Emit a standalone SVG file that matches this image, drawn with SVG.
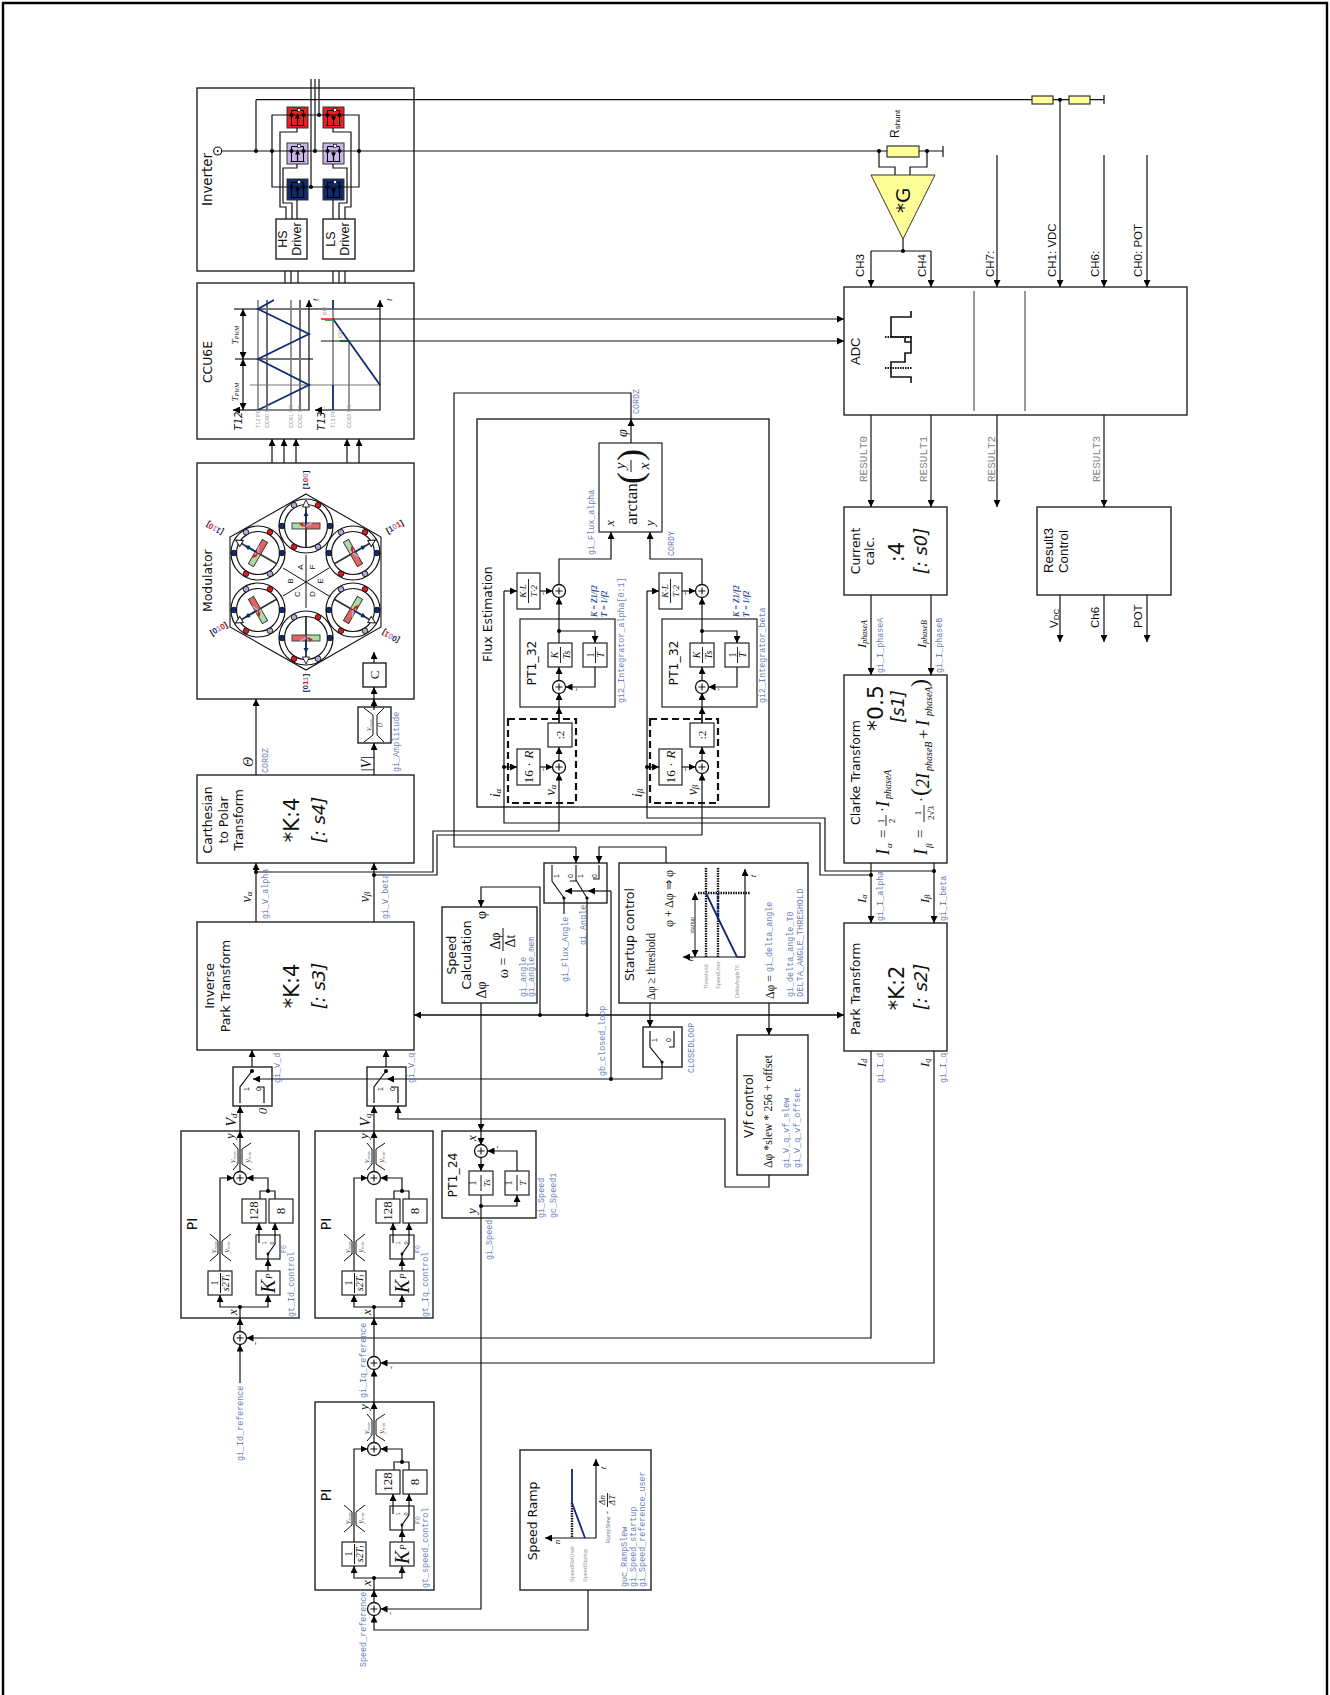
<svg xmlns="http://www.w3.org/2000/svg" xmlns:xlink="http://www.w3.org/1999/xlink" width="1330" height="1695" viewBox="0 0 1330 1695">
<style>
.w{fill:none;stroke:#111;stroke-width:1.2}
.a{marker-end:url(#a)}
.aa{marker-end:url(#a);marker-start:url(#a)}
.g{fill:none;stroke:#777;stroke-width:1.5}
.n{fill:none;stroke:#0c2a75;stroke-width:1.8}
.b{fill:#fff;stroke:#222;stroke-width:1.4}
.thin{fill:#fff;stroke:#222;stroke-width:1.2}
.d{fill:#000;r:2px}
.dash{fill:none;stroke:#111;stroke-width:2.2;stroke-dasharray:7 4}
.dot{fill:none;stroke:#111;stroke-width:2.4;stroke-dasharray:1.5 1}
text{fill:#111}
.t{font:12.4px "DejaVu Sans",sans-serif}
.big{font:21px "DejaVu Sans",sans-serif}
.it{font:italic 18px "DejaVu Sans",sans-serif}
.h{font:11.5px "Liberation Sans",sans-serif}
.h12{font:12.5px "Liberation Sans",sans-serif}
.s{font:13px "Liberation Serif",serif}
.si{font:italic 13px "Liberation Serif",serif}
.si9{font:italic 9px "Liberation Serif",serif}
.sub{font:italic 9px "Liberation Serif",serif}
.m{font:8.4px "Liberation Mono",monospace;fill:#6c7fb8}
.r{font:11px "Liberation Mono",monospace;fill:#888}
.tiny{font:5.5px "Liberation Sans",sans-serif;fill:#999}
.lim{font:italic 8px "Liberation Serif",serif;fill:#555}
.kt{font:bold italic 8px "Liberation Serif",serif;fill:#2c4a9a}
.mid{text-anchor:middle}
</style>
<defs>
<marker id="a" viewBox="0 0 8 8" refX="8" refY="4" markerWidth="7" markerHeight="7" markerUnits="userSpaceOnUse" orient="auto-start-reverse"><path d="M0,0L8,4L0,8Z" fill="#000"/></marker>
<g id="sum"><circle r="6.5" fill="#fff" stroke="#111" stroke-width="1.3"/><path d="M-3.5,0H3.5M0,-3.5V3.5" stroke="#111" stroke-width="1.1"/></g>
<g id="fetU"><path d="M-6,-3V-7H6V-3M-6,-3V8H6V-3M-7,8H7" fill="none" stroke="#000" stroke-width="1"/><path d="M0,8V-2" stroke="#000" stroke-width="1.2"/><path d="M-2.5,1L0,-4L2.5,1Z" fill="#000"/><rect x="0" y="-9" width="3" height="3" fill="#fff" stroke="#000" stroke-width=".6"/><circle cx="-6" cy="-2.5" r="2" fill="#000"/><circle cx="6" cy="-2.5" r="2" fill="#000"/></g>
<g id="fetD"><path d="M-6,-3V-7H6V-3M-6,-3V8H6V-3M-7,8H7" fill="none" stroke="#000" stroke-width="1"/><path d="M0,8V-2" stroke="#000" stroke-width="1.2"/><path d="M-2.5,-1L0,4L2.5,-1Z" fill="#000"/><rect x="0" y="-9" width="3" height="3" fill="#fff" stroke="#000" stroke-width=".6"/><circle cx="-6" cy="-2.5" r="2" fill="#000"/><circle cx="6" cy="-2.5" r="2" fill="#000"/></g>
<g id="ring"><circle r="27" fill="#fff" stroke="#111" stroke-width="1.2"/><circle r="21.5" fill="#fff" stroke="#111" stroke-width="1.2"/>
<circle cx="-12" cy="-20.8" r="2.8" fill="#b9a6df" stroke="#111" stroke-width=".9"/><circle cx="12" cy="-20.8" r="2.8" fill="#e01818" stroke="#111" stroke-width=".9"/><circle cx="-24" cy="0" r="2.8" fill="#0f2a6e" stroke="#111" stroke-width=".9"/><circle cx="24" cy="0" r="2.8" fill="#0f2a6e" stroke="#111" stroke-width=".9"/><circle cx="-12" cy="20.8" r="2.8" fill="#e01818" stroke="#111" stroke-width=".9"/><circle cx="12" cy="20.8" r="2.8" fill="#b9a6df" stroke="#111" stroke-width=".9"/></g>
<g id="rotor"><path d="M0,-21V21" stroke="#333" stroke-width="1.8"/><path d="M0,-26L-3.5,-19L3.5,-19Z" fill="#fff" stroke="#111" stroke-width=".9"/><rect x="-14" y="-3" width="14" height="6" fill="#a8dca8" stroke="#333" stroke-width=".9"/><rect x="0" y="-3" width="14" height="6" fill="#e06666" stroke="#333" stroke-width=".9"/><path d="M0,0V-11" stroke="#0f2a6e" stroke-width="1.4"/><path d="M-2.5,-10L0,-15L2.5,-10Z" fill="#0f2a6e"/><path d="M0,0L6,-3" stroke="#b9a6df" stroke-width="1.6"/><path d="M0,0L-4,-1" stroke="#e01818" stroke-width="1.6"/><path d="M-3,-3.5L-7,-2L-3,1Z" fill="#e01818"/></g>
</defs>

<path id="frame" d="M3,1695V3H1327V1695" fill="none" stroke="#000" stroke-width="2.4"/>

<g id="inverter">
<rect class="b" x="197" y="88" width="217" height="183"/>
<text class="t" style="font-size:13.4px" transform="translate(212,206) rotate(-90)">Inverter</text>
<circle cx="217.7" cy="151" r="4" fill="#fff" stroke="#111" stroke-width="1.1"/><circle cx="217.7" cy="151" r=".9" fill="#000"/>
<rect x="287" y="107" width="21" height="21" fill="#ee1c1c" stroke="#333"/><rect x="323" y="107" width="21" height="21" fill="#ee1c1c" stroke="#333"/>
<rect x="287" y="143" width="21" height="21" fill="#c8b6e8" stroke="#333"/><rect x="323" y="143" width="21" height="21" fill="#c8b6e8" stroke="#333"/>
<rect x="287" y="179" width="21" height="21" fill="#0f2a6e" stroke="#333"/><rect x="323" y="179" width="21" height="21" fill="#0f2a6e" stroke="#333"/>
<use href="#fetU" x="297.5" y="117.5"/><use href="#fetD" x="333.5" y="117.5"/><use href="#fetU" x="297.5" y="153.5"/><use href="#fetD" x="333.5" y="153.5"/><use href="#fetU" x="297.5" y="189.5"/><use href="#fetD" x="333.5" y="189.5"/>
<path class="w" d="M222,151H414M272,115H359V187H272ZM256,99.7V151M311,79V187M315,79V151M319,79V115"/>
<path class="w" d="M297,128V132H280V207H286V219M297,164V168H283V203H292V219M297,200V219M333,128V132H351V207H345V219M333,164V168H347V203H339V219M333,200V219"/>
<circle class="d" cx="256" cy="151"/><circle class="d" cx="272" cy="151"/><circle class="d" cx="315" cy="151"/><circle class="d" cx="359" cy="151"/><circle class="d" cx="319" cy="115"/><circle class="d" cx="311" cy="187"/>
<rect class="b" x="276" y="219" width="31" height="40"/><rect class="b" x="323" y="219" width="32" height="40"/>
<text class="h12 mid" transform="translate(287,239) rotate(-90)">HS</text><text class="h12 mid" transform="translate(301,239) rotate(-90)">Driver</text>
<text class="h12 mid" transform="translate(335,239) rotate(-90)">LS</text><text class="h12 mid" transform="translate(349,239) rotate(-90)">Driver</text>
</g>

<g id="ccu6e">
<rect class="b" x="197" y="283" width="217" height="156"/>
<text class="t mid" transform="translate(212,362) rotate(-90)">CCU6E</text>
<path class="g" d="M258,300V410M291,300V410"/><path class="w" d="M267,300V410M300,300V410"/>
<path class="g" d="M234,309H380M235,359H313" style="stroke-width:2"/><path class="g" d="M250,385H380" style="stroke-width:1.2"/>
<path class="w a" d="M258,410H309V300"/><path class="w a" d="M258,410H233"/>
<path class="n" d="M258,410L309,385L258,359L309,334L258,309L274,300"/>
<path class="w aa" d="M243,410V359"/><path class="w aa" d="M243,359V309"/>
<text class="si9 mid" transform="translate(238,392) rotate(-90)">T<tspan font-size="6" dy="1">PWM</tspan></text><text class="si9 mid" transform="translate(238,335) rotate(-90)">T<tspan font-size="6" dy="1">PWM</tspan></text>
<text class="t mid" transform="translate(242,421) rotate(-90)" style="font-style:italic;font-size:10px">T12</text><text class="t mid" transform="translate(325,421) rotate(-90)" style="font-style:italic;font-size:10px">T13</text>
<text class="si9" transform="translate(318,301) rotate(-90)">t</text><text class="si9" transform="translate(392,301) rotate(-90)">t</text>
<path class="g" d="M333,309V385M349,341V410"/><path class="n" d="M333,300V309M333,385V410"/>
<path class="w a" d="M333,410H380V300"/><path class="w a" d="M333,410H315"/>
<path class="n" d="M333,319L380,385"/>
<path d="M321,319H333" stroke="#e01818" stroke-width="1.5"/><path d="M325,320H334" stroke="#19a838" stroke-width="1.8"/><path d="M340,341H350" stroke="#19a838" stroke-width="1.8"/>
<text class="tiny" transform="translate(260,428) rotate(-90)">T12 PR</text><text class="tiny" transform="translate(269,428) rotate(-90)">CC60 SR</text><text class="tiny" transform="translate(293,428) rotate(-90)">CC61 SR</text><text class="tiny" transform="translate(302,428) rotate(-90)">CC62 SR</text><text class="tiny" transform="translate(335,428) rotate(-90)">T13 PR</text><text class="tiny" transform="translate(351,428) rotate(-90)">CC63 SR</text>
<text class="tiny" transform="translate(327,315) rotate(-90)">PM</text><text class="tiny" transform="translate(342,338) rotate(-90)">CM</text>
</g>

<g id="modulator">
<rect class="b" x="197" y="463" width="217" height="236"/>
<text class="t" transform="translate(212,612) rotate(-90)">Modulator</text>
<path d="M306,494L381,537V627L306,670L230,627V537Z" fill="none" stroke="#111" stroke-width="1.1"/>
<path class="w" d="M306,555V608M283,568L329,596M283,596L329,568" style="stroke-width:1"/>
<g><use href="#ring" x="306" y="526"/><use href="#ring" x="258" y="553"/><use href="#ring" x="258" y="610"/><use href="#ring" x="306" y="638"/><use href="#ring" x="353" y="610"/><use href="#ring" x="353" y="553"/>
<use href="#rotor" transform="translate(306,526)"/><use href="#rotor" transform="translate(258,553) rotate(-60)"/><use href="#rotor" transform="translate(258,610) rotate(-120)"/><use href="#rotor" transform="translate(306,638) rotate(180)"/><use href="#rotor" transform="translate(353,610) rotate(120)"/><use href="#rotor" transform="translate(353,553) rotate(60)"/></g>
<g style="font:8px 'Liberation Sans',sans-serif;text-anchor:middle;fill:#333"><text transform="translate(303,567) rotate(-90)">A</text><text transform="translate(293,581) rotate(-90)">B</text><text transform="translate(300,594) rotate(-90)">C</text><text transform="translate(315,594) rotate(-90)">D</text><text transform="translate(323,581) rotate(-90)">E</text><text transform="translate(315,567) rotate(-90)">F</text></g>
<g style="font:bold 8px 'Liberation Sans',sans-serif;text-anchor:middle">
<text transform="translate(308,480) rotate(-90)">[<tspan fill="#1a2f80">1</tspan><tspan fill="#e01818">0</tspan><tspan fill="#a892d8">0</tspan>]</text>
<text transform="translate(308,683) rotate(-90)">[<tspan fill="#1a2f80">0</tspan><tspan fill="#e01818">1</tspan><tspan fill="#a892d8">1</tspan>]</text>
<text transform="translate(396,529) rotate(-30)">[<tspan fill="#1a2f80">1</tspan><tspan fill="#a892d8">0</tspan><tspan fill="#e01818">1</tspan>]</text>
<text transform="translate(220,631) rotate(-30)">[<tspan fill="#1a2f80">0</tspan><tspan fill="#a892d8">1</tspan><tspan fill="#e01818">0</tspan>]</text>
<text transform="translate(216,526) rotate(-150)">[<tspan fill="#1a2f80">1</tspan><tspan fill="#a892d8">1</tspan><tspan fill="#e01818">0</tspan>]</text>
<text transform="translate(392,634) rotate(-150)">[<tspan fill="#1a2f80">0</tspan><tspan fill="#a892d8">0</tspan><tspan fill="#e01818">1</tspan>]</text>
</g>
<rect class="b" x="363" y="663" width="23" height="24"/>
<text class="s mid" transform="translate(379,675) rotate(-90)">C</text>
</g>

<g id="amplitude-limiter">
<rect class="b" x="358" y="707" width="33" height="36"/>
<path class="w" d="M364,708L373,715V735L364,742M384,708L377,715V735L384,742" style="stroke-width:1"/>
<text class="lim mid" transform="translate(371,725) rotate(-90)">y<tspan font-size="5" dy="1">max</tspan></text><text class="lim mid" transform="translate(383,725) rotate(-90)">0</text>
</g>

<g id="carthesian">
<rect class="b" x="197" y="775" width="217" height="88"/>
<text class="t mid" transform="translate(212,820) rotate(-90)">Carthesian</text><text class="t mid" transform="translate(228,820) rotate(-90)">to Polar</text><text class="t mid" transform="translate(243,820) rotate(-90)">Transform</text>
<text class="big mid" transform="translate(299,820) rotate(-90)">*K:4</text><text class="it mid" transform="translate(325,820) rotate(-90)">[: s4]</text>
</g>

<g id="inverse-park">
<rect class="b" x="197" y="922" width="217" height="128"/>
<text class="t mid" transform="translate(214,986) rotate(-90)">Inverse</text><text class="t mid" transform="translate(230,986) rotate(-90)">Park Transform</text>
<text class="big mid" transform="translate(299,986) rotate(-90)">*K:4</text><text class="it mid" transform="translate(325,986) rotate(-90)">[: s3]</text>
</g>

<g id="sw-vd">
<rect class="b" x="233" y="1067" width="39" height="39"/>
<path class="w" d="M240,1103V1087L252,1071M264,1103V1087H257"/><circle class="d" cx="252" cy="1071"/>
<text class="tiny mid" style="fill:#111;font-size:7px" transform="translate(249,1089) rotate(-90)">1</text><text class="tiny mid" style="fill:#111;font-size:7px" transform="translate(261,1089) rotate(-90)">0</text>
<text class="si mid" transform="translate(267,1111) rotate(-90)">0</text>
</g>
<g id="sw-vq">
<rect class="b" x="367" y="1067" width="39" height="39"/>
<path class="w" d="M374,1103V1087L386,1071M398,1103V1087H391"/><circle class="d" cx="386" cy="1071"/>
<text class="tiny mid" style="fill:#111;font-size:7px" transform="translate(383,1089) rotate(-90)">1</text><text class="tiny mid" style="fill:#111;font-size:7px" transform="translate(395,1089) rotate(-90)">0</text>
</g>

<g id="pi-id" transform="translate(181,1131)">
<rect class="b" width="118" height="187"/>
<text class="t mid" style="font-size:14px" transform="translate(16,93) rotate(-90)">PI</text>
<rect class="thin" x="27" y="140" width="24" height="24"/><rect class="thin" x="75" y="140" width="24" height="24"/><rect class="thin" x="61" y="68" width="24" height="24"/><rect class="thin" x="88" y="68" width="24" height="24"/><rect class="thin" x="75" y="104" width="24" height="24"/>
<path class="w a" d="M59,176H39V164"/><path class="w a" d="M59,176H87V164"/><path class="w" d="M59,187V176"/><circle class="d" cx="59" cy="176"/>
<path class="w a" d="M39,140V47H52.5"/><path class="w a" d="M87,60V47H65.5"/><path class="w" d="M79,68V60H94V68"/><circle class="d" cx="87" cy="60"/>
<path class="w a" d="M78,112V92"/><path class="w a" d="M94,113V92"/><path class="w" d="M94,113L87,123V128"/><circle class="d" cx="87" cy="123" style="r:1.4px"/><path class="w a" d="M87,140V128"/>
<path class="w" d="M29,103L37,110V123L29,130M50,103L41,110V123L50,130M52,39L57,33V18L52,12M70,39L61,33V18L70,12" style="stroke-width:1"/>
<path class="w a" d="M59,41V0"/><use href="#sum" x="59" y="47"/>
<text class="lim mid" transform="translate(35,116) rotate(-90)">y<tspan font-size="5" dy="1">max</tspan></text><text class="lim mid" transform="translate(48,116) rotate(-90)">y<tspan font-size="5" dy="1">min</tspan></text>
<text class="lim mid" transform="translate(54,26) rotate(-90)">y<tspan font-size="5" dy="1">max</tspan></text><text class="lim mid" transform="translate(69,26) rotate(-90)">y<tspan font-size="5" dy="1">min</tspan></text>
<text class="si mid" transform="translate(53,5) rotate(-90)">y</text><text class="si mid" transform="translate(56,181) rotate(-90)">x</text>
<text class="s mid" transform="translate(37,152) rotate(-90)" style="font-size:10px">1</text><path class="w" d="M39.5,142V162" style="stroke-width:1"/><text class="si9 mid" transform="translate(48,152) rotate(-90)" style="font-size:10px">s2T<tspan font-size="6" dy="1">I</tspan></text>
<text class="si" transform="translate(94,162) rotate(-90)" style="font-size:20px">K</text><text class="si9" transform="translate(91,148) rotate(-90)">P</text>
<text class="s mid" transform="translate(77,80) rotate(-90)">128</text><text class="s mid" transform="translate(104,80) rotate(-90)">8</text>
<text class="tiny mid" style="fill:#111" transform="translate(85,112) rotate(-90)">1</text><text class="tiny mid" style="fill:#111" transform="translate(93,112) rotate(-90)">0</text>
<text class="m" transform="translate(113,186) rotate(-90)">gt_Id_control</text><text class="m" style="font-size:6.5px" transform="translate(105,122) rotate(-90)">F0</text>
</g>

<g id="pi-iq" transform="translate(315,1131)">
<rect class="b" width="118" height="187"/>
<text class="t mid" style="font-size:14px" transform="translate(16,93) rotate(-90)">PI</text>
<rect class="thin" x="27" y="140" width="24" height="24"/><rect class="thin" x="75" y="140" width="24" height="24"/><rect class="thin" x="61" y="68" width="24" height="24"/><rect class="thin" x="88" y="68" width="24" height="24"/><rect class="thin" x="75" y="104" width="24" height="24"/>
<path class="w a" d="M59,176H39V164"/><path class="w a" d="M59,176H87V164"/><path class="w" d="M59,187V176"/><circle class="d" cx="59" cy="176"/>
<path class="w a" d="M39,140V47H52.5"/><path class="w a" d="M87,60V47H65.5"/><path class="w" d="M79,68V60H94V68"/><circle class="d" cx="87" cy="60"/>
<path class="w a" d="M78,112V92"/><path class="w a" d="M94,113V92"/><path class="w" d="M94,113L87,123V128"/><circle class="d" cx="87" cy="123" style="r:1.4px"/><path class="w a" d="M87,140V128"/>
<path class="w" d="M29,103L37,110V123L29,130M50,103L41,110V123L50,130M52,39L57,33V18L52,12M70,39L61,33V18L70,12" style="stroke-width:1"/>
<path class="w a" d="M59,41V0"/><use href="#sum" x="59" y="47"/>
<text class="lim mid" transform="translate(35,116) rotate(-90)">y<tspan font-size="5" dy="1">max</tspan></text><text class="lim mid" transform="translate(48,116) rotate(-90)">y<tspan font-size="5" dy="1">min</tspan></text>
<text class="lim mid" transform="translate(54,26) rotate(-90)">y<tspan font-size="5" dy="1">max</tspan></text><text class="lim mid" transform="translate(69,26) rotate(-90)">y<tspan font-size="5" dy="1">min</tspan></text>
<text class="si mid" transform="translate(53,5) rotate(-90)">y</text><text class="si mid" transform="translate(56,181) rotate(-90)">x</text>
<text class="s mid" transform="translate(37,152) rotate(-90)" style="font-size:10px">1</text><path class="w" d="M39.5,142V162" style="stroke-width:1"/><text class="si9 mid" transform="translate(48,152) rotate(-90)" style="font-size:10px">s2T<tspan font-size="6" dy="1">I</tspan></text>
<text class="si" transform="translate(94,162) rotate(-90)" style="font-size:20px">K</text><text class="si9" transform="translate(91,148) rotate(-90)">P</text>
<text class="s mid" transform="translate(77,80) rotate(-90)">128</text><text class="s mid" transform="translate(104,80) rotate(-90)">8</text>
<text class="tiny mid" style="fill:#111" transform="translate(85,112) rotate(-90)">1</text><text class="tiny mid" style="fill:#111" transform="translate(93,112) rotate(-90)">0</text>
<text class="m" transform="translate(113,186) rotate(-90)">gt_Iq_control</text><text class="m" style="font-size:6.5px" transform="translate(105,122) rotate(-90)">F0</text>
</g>

<g id="pi-speed" transform="translate(315,1402)">
<rect class="b" width="119" height="188"/>
<text class="t mid" style="font-size:14px" transform="translate(16,93) rotate(-90)">PI</text>
<rect class="thin" x="27" y="140" width="24" height="24"/><rect class="thin" x="75" y="140" width="24" height="24"/><rect class="thin" x="61" y="68" width="24" height="24"/><rect class="thin" x="88" y="68" width="24" height="24"/><rect class="thin" x="75" y="104" width="24" height="24"/>
<path class="w a" d="M59,176H39V164"/><path class="w a" d="M59,176H87V164"/><path class="w" d="M59,188V176"/><circle class="d" cx="59" cy="176"/>
<path class="w a" d="M39,140V47H52.5"/><path class="w a" d="M87,60V47H65.5"/><path class="w" d="M79,68V60H94V68"/><circle class="d" cx="87" cy="60"/>
<path class="w a" d="M78,112V92"/><path class="w a" d="M94,113V92"/><path class="w" d="M94,113L87,123V128"/><circle class="d" cx="87" cy="123" style="r:1.4px"/><path class="w a" d="M87,140V128"/>
<path class="w" d="M29,103L37,110V123L29,130M50,103L41,110V123L50,130M52,39L57,33V18L52,12M70,39L61,33V18L70,12" style="stroke-width:1"/>
<path class="w a" d="M59,41V0"/><use href="#sum" x="59" y="47"/>
<text class="lim mid" transform="translate(35,116) rotate(-90)">y<tspan font-size="5" dy="1">max</tspan></text><text class="lim mid" transform="translate(48,116) rotate(-90)">y<tspan font-size="5" dy="1">min</tspan></text>
<text class="lim mid" transform="translate(54,26) rotate(-90)">y<tspan font-size="5" dy="1">max</tspan></text><text class="lim mid" transform="translate(69,26) rotate(-90)">y<tspan font-size="5" dy="1">min</tspan></text>
<text class="si mid" transform="translate(53,5) rotate(-90)">y</text><text class="si mid" transform="translate(56,181) rotate(-90)">x</text>
<text class="s mid" transform="translate(37,152) rotate(-90)" style="font-size:10px">1</text><path class="w" d="M39.5,142V162" style="stroke-width:1"/><text class="si9 mid" transform="translate(48,152) rotate(-90)" style="font-size:10px">s2T<tspan font-size="6" dy="1">I</tspan></text>
<text class="si" transform="translate(94,162) rotate(-90)" style="font-size:20px">K</text><text class="si9" transform="translate(91,148) rotate(-90)">P</text>
<text class="s mid" transform="translate(77,80) rotate(-90)">128</text><text class="s mid" transform="translate(104,80) rotate(-90)">8</text>
<text class="tiny mid" style="fill:#111" transform="translate(85,112) rotate(-90)">1</text><text class="tiny mid" style="fill:#111" transform="translate(93,112) rotate(-90)">0</text>
<text class="m" transform="translate(113,186) rotate(-90)">gt_speed_control</text><text class="m" style="font-size:6.5px" transform="translate(105,122) rotate(-90)">F0</text>
</g>

<g id="pt1-24">
<rect class="b" x="442" y="1131" width="94" height="87"/>
<text class="t mid" transform="translate(457,1175) rotate(-90)">PT1_24</text>
<rect class="thin" x="469" y="1171" width="24" height="24"/><rect class="thin" x="505" y="1171" width="24" height="24"/>
<path class="w a" d="M481,1157V1171"/><path class="w a" d="M481,1206H517V1195"/><path class="w" d="M481,1195V1218"/><path class="w a" d="M517,1171V1151H487.5"/>
<use href="#sum" x="481" y="1151"/><circle class="d" cx="481" cy="1206"/>
<text class="si mid" transform="translate(476,1138) rotate(-90)">x</text><text class="si mid" transform="translate(476,1211) rotate(-90)">y</text>
<text class="s mid" transform="translate(476,1183) rotate(-90)" style="font-size:10px">1</text><path class="w" d="M481,1175V1191" style="stroke-width:1"/><text class="si9 mid" transform="translate(490,1183) rotate(-90)">Ts</text>
<text class="s mid" transform="translate(512,1183) rotate(-90)" style="font-size:10px">1</text><path class="w" d="M517,1175V1191" style="stroke-width:1"/><text class="si9 mid" transform="translate(526,1183) rotate(-90)">T</text>
<text class="s mid" transform="translate(500,1147) rotate(-90)" style="font-size:9px">-</text>
<text class="m" transform="translate(544,1218) rotate(-90)">gi_Speed</text><text class="m" transform="translate(556,1218) rotate(-90)">gc_Speed1</text>
</g>

<g id="speed-ramp">
<rect class="b" x="520" y="1450" width="131" height="140"/>
<text class="t mid" transform="translate(537,1521) rotate(-90)">Speed Ramp</text>
<path class="w a" d="M596,1538V1459"/><path class="w a" d="M596,1538H545"/>
<path class="dot" d="M572,1503V1538"/><path class="n" d="M572,1469V1503L585,1538"/>
<text class="si9 mid" transform="translate(560,1542) rotate(-90)">n</text><text class="si9 mid" transform="translate(606,1468) rotate(-90)">t</text>
<text class="tiny" transform="translate(574,1582) rotate(-90)">SpeedRefUser</text><text class="tiny" transform="translate(587,1582) rotate(-90)">SpeedStartup</text>
<text class="tiny" style="fill:#777" transform="translate(610,1543) rotate(-90)">RampSlew</text><text class="si9" transform="translate(610,1514) rotate(-90)">-</text>
<text class="si9 mid" transform="translate(605,1500) rotate(-90)">Δn</text><path class="w" d="M607.5,1493V1507" style="stroke-width:.9"/><text class="si9 mid" transform="translate(615,1500) rotate(-90)">ΔT</text>
<text class="m" transform="translate(627,1587) rotate(-90)">guc_RampSlew</text><text class="m" transform="translate(636,1587) rotate(-90)">gi_Speed_startup</text><text class="m" transform="translate(645,1587) rotate(-90)">gi_Speed_reference_user</text>
</g>

<g id="speed-calc">
<rect class="b" x="442" y="907" width="95" height="96"/>
<text class="t mid" transform="translate(456,955) rotate(-90)">Speed</text><text class="t mid" transform="translate(471,955) rotate(-90)">Calculation</text>
<text class="s mid" transform="translate(486,915) rotate(-90)" style="font-size:14px">φ</text><text class="s mid" transform="translate(486,990) rotate(-90)" style="font-size:14px">Δφ</text>
<text class="s mid" transform="translate(508,968) rotate(-90)" style="font-size:14px">ω =</text><text class="s mid" transform="translate(500,941) rotate(-90)" style="font-size:14px">Δφ</text><path class="w" d="M503,928V951" style="stroke-width:1"/><text class="s mid" transform="translate(515,941) rotate(-90)" style="font-size:14px">Δt</text>
<text class="m" transform="translate(526,997) rotate(-90)">gi_angle</text><text class="m" transform="translate(534,997) rotate(-90)">gi_angle_mem</text>
</g>

<g id="angle-switch">
<rect class="b" x="544" y="863" width="63" height="40"/>
<path class="w" d="M552,865V881L564,898M576,881H570M576,865V881M576,880L587,898M599,865V879H593" style="stroke-width:1.1"/>
<circle class="d" cx="564" cy="898" style="r:1.6px"/><circle class="d" cx="587" cy="898" style="r:1.6px"/>
<text class="tiny mid" style="fill:#111;font-size:7px" transform="translate(559,876) rotate(-90)">1</text><text class="tiny mid" style="fill:#111;font-size:7px" transform="translate(573,876) rotate(-90)">0</text><text class="tiny mid" style="fill:#111;font-size:7px" transform="translate(583,876) rotate(-90)">1</text><text class="tiny mid" style="fill:#111;font-size:7px" transform="translate(597,876) rotate(-90)">0</text>
</g>

<g id="startup-control">
<rect class="b" x="619" y="863" width="189" height="140"/>
<text class="t" transform="translate(634,981) rotate(-90)">Startup control</text>
<text class="s" transform="translate(655,1000) rotate(-90)" style="font-size:12.5px" textLength="67" lengthAdjust="spacingAndGlyphs">Δφ ≥ threshold</text>
<text class="s" transform="translate(673,927) rotate(-90)" style="font-size:12.5px" textLength="57" lengthAdjust="spacingAndGlyphs">φ + Δφ ⇒ φ</text>
<path class="dot" d="M706,868V957M718,868V957M698,893H750"/>
<path class="w a" d="M737,957H745V869"/><path class="w a" d="M745,957H683"/>
<path class="n" d="M706,893L718,918L737,957"/><path d="M718,893V918" stroke="#0c2a75" stroke-width="2.4" stroke-dasharray="2 1.5"/>
<path class="w aa" d="M695,957V893" style="stroke-width:1"/>
<text class="tiny mid" style="fill:#444" transform="translate(694,925) rotate(-90)">startup</text>
<text class="tiny" transform="translate(708,989) rotate(-90)">Threshold</text><text class="tiny" transform="translate(720,989) rotate(-90)">SpeedUser</text><text class="tiny" transform="translate(739,998) rotate(-90)">DeltaAngleT0</text>
<text class="si9 mid" transform="translate(693,959) rotate(-90)">n</text><text class="si9 mid" transform="translate(756,876) rotate(-90)">t</text>
<text class="s" transform="translate(774,999) rotate(-90)" style="font-size:12.5px" textLength="24" lengthAdjust="spacingAndGlyphs">Δφ =</text>
<text class="m" transform="translate(772,972) rotate(-90)">gi_delta_angle</text><text class="m" transform="translate(793,997) rotate(-90)">gi_delta_angle_T0</text><text class="m" transform="translate(803,997) rotate(-90)" style="font-size:8.6px">DELTA_ANGLE_THRESHOLD</text>
</g>

<g id="closedloop-switch">
<rect class="b" x="643" y="1027" width="39" height="40"/>
<path class="w" d="M650,1031V1047L662,1062M674,1031V1047H669"/><circle class="d" cx="662" cy="1062" style="r:1.6px"/>
<text class="tiny mid" style="fill:#111;font-size:7px" transform="translate(657,1040) rotate(-90)">1</text><text class="tiny mid" style="fill:#111;font-size:7px" transform="translate(671,1040) rotate(-90)">0</text>
<text class="m" transform="translate(694,1073) rotate(-90)">CLOSEDLOOP</text>
</g>

<g id="vf-control">
<rect class="b" x="737" y="1035" width="71" height="140"/>
<text class="t" transform="translate(753,1138) rotate(-90)">V/f control</text>
<text class="s" transform="translate(772,1168) rotate(-90)" style="font-size:12.5px" textLength="113" lengthAdjust="spacingAndGlyphs">Δφ *slew * 256 + offset</text>
<text class="m" transform="translate(789,1168) rotate(-90)">gi_V_q_vf_slew</text><text class="m" transform="translate(800,1168) rotate(-90)">gi_V_q_vf_offset</text>
</g>

<g id="flux-estimation">
<rect class="b" x="477" y="419" width="292" height="388"/>
<text class="t" transform="translate(492,662) rotate(-90)">Flux Estimation</text>
<rect class="thin" x="599" y="443" width="63" height="89"/>
<text class="s mid" transform="translate(637,504) rotate(-90)" style="font-size:17px">arctan</text>
<text class="s mid" transform="translate(642,478) rotate(-90)" style="font-size:36px">(</text><text class="s mid" transform="translate(642,455) rotate(-90)" style="font-size:36px">)</text>
<text class="si mid" transform="translate(625,466) rotate(-90)" style="font-size:15px">y</text><path class="w" d="M631,460V472" style="stroke-width:1"/><text class="si mid" transform="translate(649,466) rotate(-90)" style="font-size:15px">x</text>
<text class="si mid" transform="translate(614,523) rotate(-90)">x</text><text class="si mid" transform="translate(654,523) rotate(-90)">y</text>
<path class="w a" d="M631,443V419"/>
<path class="w a" d="M559,585V559H611V532"/><path class="w a" d="M702,585V559H650V532"/>
<g id="flux-branch-alpha">
<rect class="thin" x="517" y="573" width="23" height="36"/><rect class="thin" x="520" y="619" width="95" height="88"/><rect class="thin" x="548" y="643" width="24" height="24"/><rect class="thin" x="583" y="643" width="24" height="24"/><rect class="thin" x="548" y="723" width="24" height="24"/><rect class="thin" x="517" y="749" width="23" height="36"/>
<rect class="dash" x="508" y="719" width="68" height="84"/>
<text class="t mid" transform="translate(536,663) rotate(-90)">PT1_32</text>
<path class="w a" d="M559,723V693"/><path class="w a" d="M559,723V707"/><path class="w a" d="M559,681V667"/><path class="w a" d="M559,643V597.5"/><path class="w a" d="M559,631H595V643"/><path class="w a" d="M595,667V687H565.5"/><path class="w a" d="M540,591H552.5"/><path class="w a" d="M540,767H552.5"/><path class="w a" d="M559,761V747"/><path class="w a" d="M504,767H517"/><path class="w a" d="M504,591H517"/>
<circle class="d" cx="559" cy="631"/><circle class="d" cx="504" cy="767"/>
<use href="#sum" x="559" y="591"/><use href="#sum" x="559" y="687"/><use href="#sum" x="559" y="767"/>
<text class="si9 mid" transform="translate(526,591) rotate(-90)">K·L</text><path class="w" d="M528.5,579V603" style="stroke-width:.9"/><text class="si9 mid" transform="translate(537,591) rotate(-90)">T·2</text>
<text class="si9 mid" transform="translate(558,655) rotate(-90)" style="font-size:10px">K</text><path class="w" d="M560.5,647V663" style="stroke-width:.9"/><text class="si9 mid" transform="translate(570,655) rotate(-90)" style="font-size:10px">Ts</text>
<text class="s mid" transform="translate(594,655) rotate(-90)" style="font-size:10px">1</text><path class="w" d="M595.5,647V663" style="stroke-width:.9"/><text class="si9 mid" transform="translate(604,655) rotate(-90)" style="font-size:10px">T</text>
<text class="s mid" transform="translate(564,735) rotate(-90)" style="font-size:11px">:2</text>
<text class="s mid" transform="translate(533,767) rotate(-90)" style="font-size:13.5px">16 · <tspan font-style="italic">R</tspan></text>
<text class="s" transform="translate(546,595) rotate(-90)" style="font-size:9px">-</text><text class="s" transform="translate(546,771) rotate(-90)" style="font-size:9px">-</text><text class="s" transform="translate(579,691) rotate(-90)" style="font-size:9px">-</text>
<text class="kt" transform="translate(597,617) rotate(-90)">K = Z1/f2</text><text class="kt" transform="translate(607,617) rotate(-90)">T = 1/f2</text>
</g>
<g id="flux-branch-beta" transform="translate(142,0)">
<rect class="thin" x="517" y="573" width="23" height="36"/><rect class="thin" x="520" y="619" width="95" height="88"/><rect class="thin" x="548" y="643" width="24" height="24"/><rect class="thin" x="583" y="643" width="24" height="24"/><rect class="thin" x="548" y="723" width="24" height="24"/><rect class="thin" x="517" y="749" width="23" height="36"/>
<rect class="dash" x="508" y="719" width="68" height="84"/>
<text class="t mid" transform="translate(536,663) rotate(-90)">PT1_32</text>
<path class="w a" d="M560,723V693"/><path class="w a" d="M560,723V707"/><path class="w a" d="M560,681V667"/><path class="w a" d="M560,643V597.5"/><path class="w a" d="M560,631H595V643"/><path class="w a" d="M595,667V687H566.5"/><path class="w a" d="M540,591H553.5"/><path class="w a" d="M540,767H553.5"/><path class="w a" d="M560,761V747"/><path class="w a" d="M505,767H517"/><path class="w a" d="M505,591H517"/>
<circle class="d" cx="560" cy="631"/><circle class="d" cx="505" cy="767"/>
<use href="#sum" x="560" y="591"/><use href="#sum" x="560" y="687"/><use href="#sum" x="560" y="767"/>
<text class="si9 mid" transform="translate(526,591) rotate(-90)">K·L</text><path class="w" d="M528.5,579V603" style="stroke-width:.9"/><text class="si9 mid" transform="translate(537,591) rotate(-90)">T·2</text>
<text class="si9 mid" transform="translate(558,655) rotate(-90)" style="font-size:10px">K</text><path class="w" d="M560.5,647V663" style="stroke-width:.9"/><text class="si9 mid" transform="translate(570,655) rotate(-90)" style="font-size:10px">Ts</text>
<text class="s mid" transform="translate(594,655) rotate(-90)" style="font-size:10px">1</text><path class="w" d="M595.5,647V663" style="stroke-width:.9"/><text class="si9 mid" transform="translate(604,655) rotate(-90)" style="font-size:10px">T</text>
<text class="s mid" transform="translate(564,735) rotate(-90)" style="font-size:11px">:2</text>
<text class="s mid" transform="translate(533,767) rotate(-90)" style="font-size:13.5px">16 · <tspan font-style="italic">R</tspan></text>
<text class="s" transform="translate(546,595) rotate(-90)" style="font-size:9px">-</text><text class="s" transform="translate(546,771) rotate(-90)" style="font-size:9px">-</text><text class="s" transform="translate(579,691) rotate(-90)" style="font-size:9px">-</text>
<text class="kt" transform="translate(597,617) rotate(-90)">K = Z1/f2</text><text class="kt" transform="translate(607,617) rotate(-90)">T = 1/f2</text>
</g>
<text class="si mid" transform="translate(500,793) rotate(-90)" style="font-size:14px">i<tspan font-size="9" dy="1">α</tspan></text><text class="si mid" transform="translate(642,793) rotate(-90)" style="font-size:14px">i<tspan font-size="9" dy="1">β</tspan></text>
<text class="si mid" transform="translate(555,790) rotate(-90)" style="font-size:14px">v<tspan font-size="9" dy="1">α</tspan></text><text class="si mid" transform="translate(697,790) rotate(-90)" style="font-size:14px">v<tspan font-size="9" dy="1">β</tspan></text>
<text class="m" transform="translate(594,555) rotate(-90)">gi_Flux_alpha</text><text class="m" transform="translate(674,556) rotate(-90)">CORDY</text>
<text class="m" transform="translate(624,703) rotate(-90)">gi2_Integrator_alpha[0:1]</text><text class="m" transform="translate(765,703) rotate(-90)">gi2_Integrator_beta</text>
<text class="si mid" transform="translate(627,433) rotate(-90)" style="font-size:14px">φ</text>
</g>

<g id="adc">
<rect class="b" x="844" y="287" width="343" height="128"/>
<path class="w" d="M974,291V411M1025,291V411" style="stroke:#555"/>
<text class="h12" transform="translate(860,365) rotate(-90)" style="font-size:13px">ADC</text>
<path class="w" d="M911,311V317H891V337H911V353H905V362H891V377H911V383M905,338V342H911" style="stroke-width:1.6"/>
<path class="dot" d="M885,337H912M885,368H912" style="stroke-width:1.8"/>
</g>

<g id="current-calc">
<rect class="b" x="844" y="507" width="103" height="88"/>
<text class="t mid" transform="translate(860,551) rotate(-90)">Current</text><text class="t mid" transform="translate(874,551) rotate(-90)">calc.</text>
<text class="big mid" transform="translate(904,552) rotate(-90)">:4</text><text class="it mid" transform="translate(927,551) rotate(-90)">[: s0]</text>
</g>

<g id="result3-control">
<rect class="b" x="1037" y="507" width="134" height="88"/>
<text class="h12" style="font-size:13.3px" transform="translate(1053,573) rotate(-90)">Result3</text><text class="h12" style="font-size:13.3px" transform="translate(1068,573) rotate(-90)">Control</text>
</g>

<g id="clarke-transform">
<rect class="b" x="844" y="675" width="103" height="188"/>
<text class="t" transform="translate(860,825) rotate(-90)">Clarke Transform</text>
<text class="big" style="font-size:22px" transform="translate(883,731) rotate(-90)">*0.5</text>
<text class="it" style="font-size:17px" transform="translate(904,723) rotate(-90)">[s1]</text>
<g class="si" style="font-size:17px">
<text class="si" style="font-size:18px" transform="translate(889,855) rotate(-90)">I</text><text class="sub" transform="translate(892,848) rotate(-90)">α</text>
<text class="s" style="font-size:15px" transform="translate(888,838) rotate(-90)">=</text>
<text class="s mid" style="font-size:9px" transform="translate(884,821) rotate(-90)">1</text><path class="w" d="M886,815V826" style="stroke-width:.9"/><text class="s mid" style="font-size:9px" transform="translate(895,821) rotate(-90)">2</text>
<text class="s" style="font-size:14px" transform="translate(887,812) rotate(-90)">·</text>
<text class="si" style="font-size:18px" transform="translate(889,807) rotate(-90)">I</text><text class="sub" style="font-size:10px" transform="translate(891,799) rotate(-90)">phaseA</text>
<text class="si" style="font-size:18px" transform="translate(927,855) rotate(-90)">I</text><text class="sub" transform="translate(932,848) rotate(-90)">β</text>
<text class="s" style="font-size:15px" transform="translate(925,838) rotate(-90)">=</text>
<text class="s mid" style="font-size:9px" transform="translate(921,813) rotate(-90)">1</text><path class="w" d="M924,805V822" style="stroke-width:.9"/><text class="s mid" style="font-size:9px" transform="translate(934,813) rotate(-90)">2√3</text>
<text class="s" style="font-size:14px" transform="translate(926,802) rotate(-90)">·</text>
<text class="s" style="font-size:24px" transform="translate(927,796) rotate(-90)">(</text>
<text class="si" style="font-size:18px" transform="translate(929,788) rotate(-90)">2I</text><text class="sub" style="font-size:10px" transform="translate(932,771) rotate(-90)">phaseB</text>
<text class="s" style="font-size:17px" transform="translate(929,739) rotate(-90)">+</text>
<text class="si" style="font-size:18px" transform="translate(929,726) rotate(-90)">I</text><text class="sub" style="font-size:10px" transform="translate(932,716) rotate(-90)">phaseA</text>
<text class="s" style="font-size:24px" transform="translate(927,687) rotate(-90)">)</text>
</g>
</g>

<g id="park-transform">
<rect class="b" x="844" y="923" width="103" height="128"/>
<text class="t" transform="translate(860,1035) rotate(-90)">Park Transform</text>
<text class="big mid" transform="translate(904,988) rotate(-90)">*K:2</text><text class="it mid" transform="translate(927,987) rotate(-90)">[: s2]</text>
</g>

<g id="shunt-amp">
<rect x="887" y="146" width="32" height="11" fill="#ffff99" stroke="#333" stroke-width="1.2"/>
<path d="M871,175H935L903,239Z" fill="#ffff99" stroke="#333" stroke-width="1"/>
<text class="t" style="font-size:20px" transform="translate(910,213) rotate(-90)">*G</text>
<text class="h" transform="translate(899,138) rotate(-90)" style="font-size:12px">R<tspan font-size="8" dy="1">shunt</tspan></text>
</g>
<g id="dc-divider">
<rect x="1032" y="96" width="21" height="8" fill="#ffff99" stroke="#333" stroke-width="1.2"/><rect x="1069" y="96" width="21" height="8" fill="#ffff99" stroke="#333" stroke-width="1.2"/>
</g>

<g id="connectors">
<path class="w" d="M256,99.7H1032M1053,99.7H1069M1090,99.7H1104M1104,95V104"/><circle class="d" cx="1060" cy="99.7"/>
<path class="w" d="M414,151H887M919,151H943M943,146V157M879,151V167H895V175M927,151V167H910V175M903,239V251M871,251H931"/>
<circle class="d" cx="879" cy="151"/><circle class="d" cx="927" cy="151"/><circle class="d" cx="903" cy="251"/>
<path class="w a" d="M871,251V287"/><path class="w a" d="M931,251V287"/><path class="w a" d="M997,155V287"/><path class="w a" d="M1060,99.7V287"/><path class="w a" d="M1104,155V287"/><path class="w a" d="M1147,155V287"/>
<path class="w a" d="M333,319H844"/><path class="w a" d="M321,341H844"/>
<path class="w a" d="M871,415V507"/><path class="w a" d="M931,415V507"/><path class="w a" d="M997,415V507"/><path class="w a" d="M1104,415V507"/>
<path class="w a" d="M1060,595V642"/><path class="w a" d="M1104,595V642"/><path class="w a" d="M1147,595V642"/>
<path class="w a" d="M871,595V675"/><path class="w a" d="M931,595V675"/>
<path class="w a" d="M871,863V923"/><path class="w a" d="M934,863V923"/>
<circle class="d" cx="871" cy="875"/><circle class="d" cx="934" cy="871"/>
<path class="w" d="M285,271V283M291,271V283M298,271V283M333,271V283M339,271V283M345,271V283"/>
<path class="w a" d="M272,463V439"/><path class="w a" d="M284,463V439"/><path class="w a" d="M296,463V439"/><path class="w a" d="M347,463V439"/><path class="w a" d="M359,463V439"/>
<path class="w a" d="M256,775V699"/><path class="w a" d="M374,775V743"/><path class="w a" d="M374,707V687"/><path class="w a" d="M374,710V699"/><path class="w a" d="M374,663V652"/>
<path class="w a" d="M256,922V863"/><path class="w a" d="M374,922V863"/>
<circle class="d" cx="256" cy="872"/><circle class="d" cx="374" cy="875"/>
<path class="w" d="M256,872H433V831H559V773"/><path class="w a" d="M559,779V773.5"/><path class="w" d="M374,875H437V835H702"/><path class="w a" d="M702,835V773.5"/>
<path class="w" d="M631,419V393H454V847H576"/><path class="w a" d="M576,847V863"/>
<path class="w a" d="M666,863V847H599V863"/>
<path class="w" d="M504,591V823H820V875H871M647,591V818H825V871H934"/>
<path class="w a" d="M844,1015H414"/><path class="w a" d="M414,1015H844"/>
<path class="w" d="M564,898V914M587,898V1015"/><circle class="d" cx="587" cy="1015"/><circle class="d" cx="540" cy="1015"/>
<path class="w a" d="M540,1015V887H481V907"/>
<path class="w a" d="M611,891H588"/><path class="w a" d="M588,891H565"/><path class="w" d="M611,891V1079"/><circle class="d" cx="611" cy="1079"/>
<path class="w" d="M662,1062V1079"/><path class="w a" d="M662,1079H387"/><path class="w a" d="M387,1079H253"/>
<path class="w a" d="M650,1003V1027"/><path class="w a" d="M769,1003V1035"/>
<path class="w a" d="M769,1175V1187H725V1119H398V1106"/>
<path class="w a" d="M252,1067V1050"/><path class="w a" d="M386,1067V1050"/>
<path class="w a" d="M240,1131V1106"/><path class="w a" d="M374,1131V1106"/>
<path class="w a" d="M481,1003V1131"/><path class="w a" d="M481,1131V1145"/>
<path class="w a" d="M240,1331.5V1318"/><path class="w a" d="M374,1356.5V1318"/><path class="w a" d="M374,1402V1369.5"/><path class="w a" d="M374,1602.5V1590"/>
<path class="w a" d="M240,1383V1344.5"/>
<path class="w a" d="M871,1051V1338H246.5"/><path class="w a" d="M934,1051V1363H380.5"/>
<path class="w a" d="M481,1218V1609H380.5"/>
<path class="w a" d="M588,1590V1630H374V1615.5"/>
<use href="#sum" x="240" y="1338"/><use href="#sum" x="374" y="1363"/><use href="#sum" x="374" y="1609"/>
</g>

<g id="labels">
<text class="s" transform="translate(258,1345) rotate(-90)" style="font-size:9px">-</text><text class="s" transform="translate(394,1369) rotate(-90)" style="font-size:9px">-</text><text class="s" transform="translate(393,1615) rotate(-90)" style="font-size:9px">-</text>
<text class="h" transform="translate(864,277) rotate(-90)">CH3</text><text class="h" transform="translate(926,277) rotate(-90)">CH4</text><text class="h" transform="translate(994,277) rotate(-90)">CH7:</text><text class="h" transform="translate(1056,277) rotate(-90)">CH1: VDC</text><text class="h" transform="translate(1099,277) rotate(-90)">CH6:</text><text class="h" transform="translate(1142,277) rotate(-90)">CH0: POT</text>
<text class="r" transform="translate(867,482) rotate(-90)">RESULT0</text><text class="r" transform="translate(927,482) rotate(-90)">RESULT1</text><text class="r" transform="translate(995,482) rotate(-90)">RESULT2</text><text class="r" transform="translate(1100,482) rotate(-90)">RESULT3</text>
<text class="h" transform="translate(1058,628) rotate(-90)">V<tspan font-size="8" dy="1">DC</tspan></text><text class="h" transform="translate(1099,628) rotate(-90)">Ch6</text><text class="h" transform="translate(1142,628) rotate(-90)">POT</text>
<text class="si" transform="translate(866,648) rotate(-90)">I<tspan font-size="8" dy="1">phaseA</tspan></text><text class="si" transform="translate(926,648) rotate(-90)">I<tspan font-size="8" dy="1">phaseB</tspan></text>
<text class="m" transform="translate(883,673) rotate(-90)">gi_I_phaseA</text><text class="m" transform="translate(942,673) rotate(-90)">gi_I_phaseB</text>
<text class="si" transform="translate(866,903) rotate(-90)">I<tspan font-size="8" dy="1">α</tspan></text><text class="si" transform="translate(929,903) rotate(-90)">I<tspan font-size="8" dy="1">β</tspan></text>
<text class="m" transform="translate(883,921) rotate(-90)">gi_I_alpha</text><text class="m" transform="translate(946,921) rotate(-90)">gi_I_beta</text>
<text class="si" transform="translate(866,1067) rotate(-90)">I<tspan font-size="8" dy="1">d</tspan></text><text class="si" transform="translate(929,1067) rotate(-90)">I<tspan font-size="8" dy="1">q</tspan></text>
<text class="m" transform="translate(883,1083) rotate(-90)">gi_I_d</text><text class="m" transform="translate(946,1083) rotate(-90)">gi_I_q</text>
<text class="si mid" transform="translate(253,762) rotate(-90)" style="font-size:14px">Θ</text><text class="m" transform="translate(268,773) rotate(-90)">CORDZ</text>
<text class="si" transform="translate(371,772) rotate(-90)" style="font-size:14px">|V|</text><text class="m" transform="translate(399,772) rotate(-90)">gi_Amplitude</text>
<text class="si mid" transform="translate(251,897) rotate(-90)" style="font-size:14px">v<tspan font-size="9" dy="1">α</tspan></text><text class="m" transform="translate(268,919) rotate(-90)">gi_V_alpha</text>
<text class="si mid" transform="translate(369,897) rotate(-90)" style="font-size:14px">v<tspan font-size="9" dy="1">β</tspan></text><text class="m" transform="translate(388,919) rotate(-90)">gi_V_beta</text>
<text class="m" transform="translate(280,1083) rotate(-90)">gi_V_d</text><text class="m" transform="translate(414,1083) rotate(-90)">gi_V_q</text>
<text class="si mid" transform="translate(236,1120) rotate(-90)" style="font-size:14px">V<tspan font-size="9" dy="1">d</tspan></text><text class="si mid" transform="translate(370,1120) rotate(-90)" style="font-size:14px">V<tspan font-size="9" dy="1">q</tspan></text>
<text class="m" transform="translate(639,414) rotate(-90)">CORDZ</text>
<text class="m" transform="translate(568,982) rotate(-90)">gi_Flux_Angle</text><text class="m" transform="translate(586,945) rotate(-90)">gi_Angle</text><text class="m" transform="translate(605,1076) rotate(-90)">gb_closed_loop</text>
<text class="m" transform="translate(492,1260) rotate(-90)">gi_Speed</text>
<text class="m" transform="translate(243,1461) rotate(-90)">gi_Id_reference</text><text class="m" transform="translate(366,1398) rotate(-90)">gi_Iq_reference</text><text class="m" transform="translate(366,1667) rotate(-90)">Speed_reference</text>
</g>
</svg>
